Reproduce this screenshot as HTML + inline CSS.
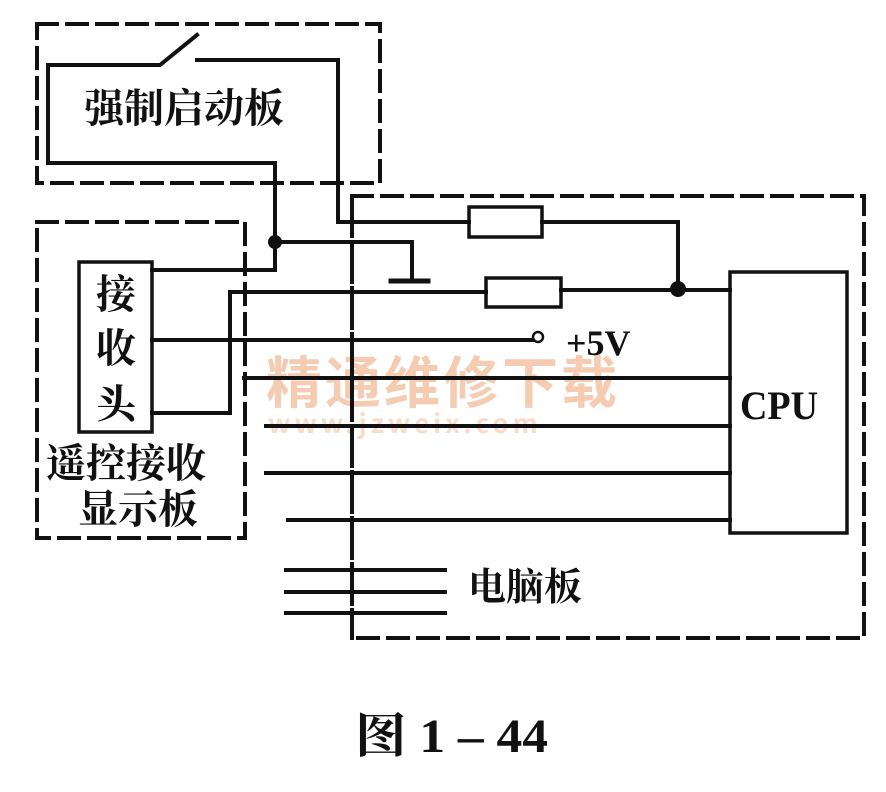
<!DOCTYPE html>
<html><head><meta charset="utf-8"><style>
html,body{margin:0;padding:0;background:#fff;}
svg{display:block;}
.t{font-family:"Liberation Serif","Noto Serif CJK SC","Noto Sans CJK SC",serif;font-weight:bold;fill:#111;}
</style></head><body>
<svg width="886" height="792" viewBox="0 0 886 792" xmlns="http://www.w3.org/2000/svg">
<rect width="886" height="792" fill="#fff"/>
<g font-family="'Noto Sans CJK SC',sans-serif" font-weight="bold" fill="#f5ccb2">
<text x="266" y="403" font-size="56" letter-spacing="3">精通维修下载</text>
<text x="268" y="433" font-size="26" letter-spacing="4" fill="#f8dccb">www.jzweix.com</text>
</g>
<g fill="none" stroke="#111" stroke-width="4" stroke-linecap="square">
<g stroke-dasharray="20,10">
<path d="M37,24 H380 V183 H37 Z"/>
<path d="M37,222 H245 V538 H37 Z"/>
<path d="M352,196 H864 V638 H352"/>
</g>
<path d="M352,196 V638" stroke-dasharray="40,6"/>
<path d="M48,163 V65 H160 L197,35"/>
<path d="M197,60 H338 V222 H469"/>
<path d="M48,163 H275 V270 H152"/>
<path d="M275,242 H412 V280"/>
<path d="M391,281 H428" stroke-width="5"/>
<rect x="469" y="207" width="73" height="30" stroke-width="3.5"/>
<path d="M542,222 H678 V289"/>
<path d="M230,413 H152 M230,413 V292 H486"/>
<rect x="486" y="278" width="75" height="29" stroke-width="3.5"/>
<path d="M561,290 H730"/>
<path d="M152,340 H534"/>
<rect x="730" y="272" width="117" height="261" stroke-width="3.5"/>
<path d="M244,378 H730 M266,426 H730 M266,473 H730 M288,520 H730"/>
<path d="M286,570 H445 M286,592 H445 M286,613 H445"/>
<rect x="79" y="262" width="73" height="170" stroke-width="3.5"/>
</g>
<circle cx="538" cy="337" r="5" fill="#fff" stroke="#111" stroke-width="2.5"/>
<circle cx="275" cy="242" r="7" fill="#111"/>
<circle cx="678" cy="289" r="8" fill="#111"/>
<text class="t" x="84" y="122" font-size="40">强制启动板</text>
<text class="t" x="96" y="308" font-size="40">接</text>
<text class="t" x="96" y="362" font-size="40">收</text>
<text class="t" x="96" y="418" font-size="40">头</text>
<text class="t" x="46" y="477" font-size="40">遥控接收</text>
<text class="t" x="78" y="523" font-size="40">显示板</text>
<text class="t" x="566" y="355" font-size="36" font-weight="normal">+5V</text>
<text class="t" x="740" y="419" font-size="40" font-weight="normal" textLength="78" lengthAdjust="spacingAndGlyphs">CPU</text>
<text class="t" x="468" y="600" font-size="38">电脑板</text>
<text class="t" x="355" y="752" font-size="48" textLength="193" lengthAdjust="spacingAndGlyphs">图 1 – 44</text>
</svg>
</body></html>
